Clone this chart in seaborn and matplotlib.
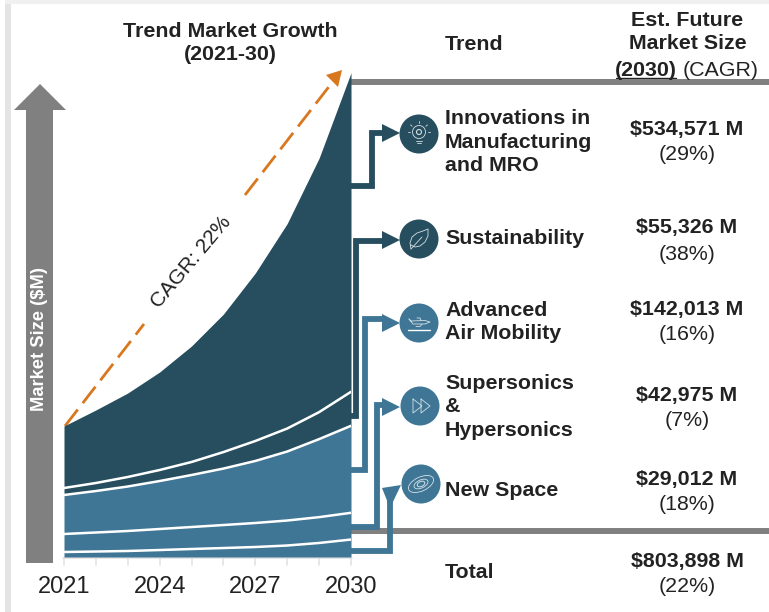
import numpy as np
import pandas as pd
import seaborn as sns
import matplotlib
matplotlib.use("Agg")
import matplotlib.pyplot as plt
from matplotlib.patches import Circle, Polygon, Ellipse

DARK = "#274e5f"
LIGHT = "#3f7695"
GRAY = "#808080"
ORANGE = "#d9771e"
INK = "#222222"

years = [2021, 2022, 2023, 2024, 2025, 2026, 2027, 2028, 2029, 2030]
new_space = [8300, 9100, 10000, 11600, 13300, 14900, 16600, 19100, 23300, 29012]
supersonics = [29900, 31600, 33200, 34900, 36500, 38200, 39900, 41500, 42900, 44400]
air_mobility = [64800, 68900, 73900, 79700, 86400, 93800, 103000, 114600, 129600, 144500]
sustainability = [11600, 13300, 15800, 18300, 21600, 27400, 33200, 38200, 44800, 56500]
innovations = [103000, 121300, 139500, 162800, 192700, 229200, 279000, 340500, 421900, 529900]

trend_names = ["Innovations in\nManufacturing\nand MRO", "Sustainability", "Advanced\nAir Mobility",
               "Supersonics\n&\nHypersonics", "New Space", "Total"]
trend_sizes = ["$534,571 M", "$55,326 M", "$142,013 M", "$42,975 M", "$29,012 M", "$803,898 M"]
trend_cagr = ["(29%)", "(38%)", "(16%)", "(7%)", "(18%)", "(22%)"]
tick_years = [2021, 2024, 2027, 2030]

sns.set_theme(style="white")
plt.rcParams['font.family'] = ['Liberation Sans', 'DejaVu Sans']

fig = plt.figure(figsize=(7.69, 6.12), dpi=100)
W, H = 769, 612
FS = 15.4
LS = 1.29

# overlay in pixel coordinates for all the annotation parts
ov = fig.add_axes([0, 0, 1, 1], zorder=1)
ov.set_xlim(0, W)
ov.set_ylim(H, 0)
ov.axis("off")

ax = fig.add_axes([64 / W, (H - 557) / H, 287 / W, 484 / H], zorder=2)
ax.patch.set_alpha(0)
bands = [new_space, supersonics, air_mobility, sustainability, innovations]
band_colors = [LIGHT, LIGHT, LIGHT, DARK, DARK]
ax.stackplot(years, bands, colors=band_colors, linewidth=0)
stacked = np.cumsum(np.array(bands), axis=0)
for level in stacked[:4]:
    df = pd.DataFrame({"year": years, "size": level})
    sns.lineplot(data=df, x="year", y="size", color="white", linewidth=1.8, ax=ax)
ax.set_xlim(2021, 2030)
ax.set_ylim(0, 803898)
ax.set_xlabel("")
ax.set_ylabel("")
ax.set_yticks([])
ax.set_xticks(tick_years)
ax.set_xticklabels([str(y) for y in tick_years], fontsize=17, color=INK)
ax.tick_params(axis="x", which="both", length=0, pad=14)
sns.despine(ax=ax, left=True, bottom=True)
for y in years:
    xp = 64 + (y - 2021) * 287 / 9
    ov.plot([xp, xp], [558, 565], color="#e3e3e3", lw=1.2)
ov.plot([63, 352], [558, 558], color="#e3e3e3", lw=1.2)

# page edge
ov.add_patch(plt.Rectangle((5, 0), 6, H, color="#e4e4e4", lw=0))
ov.add_patch(plt.Rectangle((5, 0), W, 3.5, color="#f0f0f0", lw=0))

# market size arrow
ov.add_patch(Polygon([(26, 563), (26, 110), (14, 110), (40, 84), (66, 110), (53, 110), (53, 563)], color=GRAY, lw=0))
ov.text(40, 339, "Market Size ($M)", color="white", fontsize=13.2, fontweight="bold",
        rotation=90, ha="center", va="center")

# header
ov.text(230, 43, "Trend Market Growth\n(2021-30)", fontsize=FS, fontweight="bold", color=INK,
        ha="center", va="center", linespacing=LS)
ov.text(445, 45, "Trend", fontsize=FS, fontweight="bold", color=INK, va="center")
ov.text(687.5, 32, "Est. Future\nMarket Size", fontsize=FS, fontweight="bold", color=INK,
        ha="center", va="center", linespacing=LS)
ov.text(615, 70, "(2030)", fontsize=FS, fontweight="bold", color=INK, va="center")
ov.text(683, 70, "(CAGR)", fontsize=FS, color=INK, va="center")
ov.plot([616, 676], [78, 78], color=INK, lw=1)

# rules
ov.plot([351, W], [82.3, 82.3], color=GRAY, lw=4.3, solid_capstyle="butt")
ov.plot([349, W], [531, 531], color=GRAY, lw=4.3, solid_capstyle="butt", zorder=3)

# cagr arrow, broken where the label sits
ov.plot([65, 144], [426, 324], color=ORANGE, lw=2, dashes=(7.5, 2.9))
ov.plot([245, 331], [195, 84], color=ORANGE, lw=2, dashes=(7.5, 2.9))
ov.add_patch(Polygon([(342, 70), (326, 75), (338, 87)], color=ORANGE, lw=0))
ov.text(191, 262, "CAGR: 22%", fontsize=15, color=INK, rotation=50, ha="center", va="center",
        rotation_mode="anchor")


def connector(pts, color, white_edge=False):
    xs, ys = zip(*pts)
    if white_edge:
        ov.plot(xs, ys, color="white", lw=6.8, solid_joinstyle="miter", solid_capstyle="butt", zorder=4)
    ov.plot(xs, ys, color=color, lw=4.2, solid_joinstyle="miter", solid_capstyle="butt", zorder=5)


connector([(351, 186), (372, 186), (372, 133), (385, 133)], DARK)
connector([(351, 416), (356, 416), (356, 241), (385, 241)], DARK, True)
connector([(351, 470), (365, 470), (365, 319), (385, 319)], LIGHT, True)
connector([(351, 527), (377, 527), (377, 405), (385, 405)], LIGHT)
connector([(351, 551), (390, 551), (390, 500)], LIGHT)

heads = [(133, DARK), (240, DARK), (323, LIGHT), (407, LIGHT)]
for yc, col in heads:
    ov.add_patch(Polygon([(382, yc - 9), (400, yc), (382, yc + 9)], color=col, lw=0, zorder=6))
ov.add_patch(Polygon([(382, 488), (401, 485), (390, 508)], color=LIGHT, lw=0, zorder=6))

# icon circles
centers = [(419, 134), (419, 239), (419, 323), (420, 406), (421, 484)]
circle_colors = [DARK, DARK, LIGHT, LIGHT, LIGHT]
for (cx, cy), col in zip(centers, circle_colors):
    ov.add_patch(Circle((cx, cy), 19.5, color=col, lw=0, zorder=7))
IC = "#d5e0e6"
kw = dict(color=IC, lw=0.6, zorder=8, solid_capstyle="round")

# bulb
cx, cy = centers[0]
ov.add_patch(Circle((cx, cy - 2), 6.5, fill=False, ec=IC, lw=0.6, zorder=8))
ov.add_patch(Circle((cx, cy - 2), 2.5, fill=False, ec=IC, lw=0.8, zorder=8))
ov.plot([cx - 3, cx + 3], [cy + 7, cy + 7], **kw)
ov.plot([cx - 2, cx + 2], [cy + 9, cy + 9], **kw)
for a in np.radians([0, 40, 90, 140, 180]):
    ov.plot([cx + 9 * np.cos(a), cx + 11 * np.cos(a)], [cy - 2 - 9 * np.sin(a), cy - 2 - 11 * np.sin(a)], **kw)

# leaf
cx, cy = centers[1]
ov.plot([cx - 8, cx - 9, cx - 7, cx - 2, cx + 4, cx + 9, cx + 9, cx + 6, cx + 1, cx - 4, cx - 8],
        [cy + 10, cy + 4, cy - 2, cy - 6, cy - 8, cy - 10, cy - 3, cy + 3, cy + 7, cy + 8, cy + 6], **kw)
ov.plot([cx - 8, cx + 3], [cy + 10, cy - 2], **kw)

# plane
cx, cy = centers[2]
ov.plot([cx - 11, cx + 11], [cy + 7, cy + 7], color="white", lw=1, zorder=8)
ov.plot([cx - 10, cx - 8, cx + 6, cx + 11, cx + 6, cx - 6, cx - 10],
        [cy - 4, cy - 2, cy - 2.5, cy - 1, cy + 1, cy + 1, cy - 4], **kw)
ov.plot([cx - 3, cx + 1, cx + 3], [cy + 3.5, cy + 3.5, cy + 1], **kw)
ov.plot([cx - 2, cx + 1, cx + 2], [cy - 5, cy - 5, cy - 2.5], **kw)

# fast forward
cx, cy = centers[3]
ov.plot([cx - 7, cx + 2, cx - 7, cx - 7], [cy - 7, cy, cy + 7, cy - 7], **kw)
ov.plot([cx + 1, cx + 10, cx + 1, cx + 1], [cy - 7, cy, cy + 7, cy - 7], **kw)

# orbit
cx, cy = centers[4]
ov.add_patch(Ellipse((cx, cy), 27, 14, angle=-25, fill=False, ec=IC, lw=0.6, zorder=8))
ov.add_patch(Ellipse((cx, cy), 15, 8, angle=-25, fill=False, ec=IC, lw=0.6, zorder=8))
ov.add_patch(Ellipse((cx, cy), 8, 5, angle=-25, fill=False, ec=IC, lw=0.7, zorder=8))

# table rows
label_y = [142, 239, 322, 407, 491, 573]
size_y = [129, 228, 309, 395, 479, 561]
for name, ly, size, sy, cagr in zip(trend_names, label_y, trend_sizes, size_y, trend_cagr):
    ov.text(445, ly, name, fontsize=FS, fontweight="bold", color=INK, va="center", linespacing=LS)
    ov.text(687, sy, size, fontsize=FS, fontweight="bold", color=INK, ha="center", va="center")
    ov.text(687, sy + 26, cagr, fontsize=FS, color=INK, ha="center", va="center")

fig.savefig("out.png", dpi=100)
